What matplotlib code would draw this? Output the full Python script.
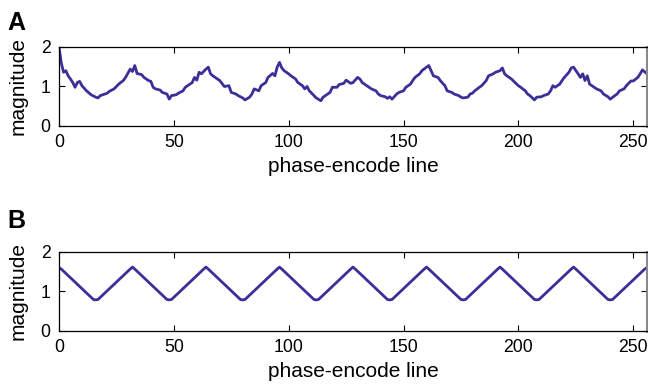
import matplotlib
matplotlib.use("Agg")
import matplotlib.pyplot as plt

plt.rcParams['font.family'] = ['Liberation Sans', 'DejaVu Sans']

line_a = [0, 1, 2, 3, 4, 5, 6, 7, 8, 9, 10, 12, 14, 16, 17, 18, 21, 22, 24, 25,
          26, 28, 29, 31, 32, 33, 34, 36, 37, 39, 40, 41, 42, 44, 45, 47, 48, 49,
          51, 52, 54, 55, 57, 58, 59, 60, 61, 62, 64, 65, 66, 67, 69, 70, 72, 74,
          75, 77, 78, 80, 81, 83, 84, 85, 87, 88, 90, 91, 93, 94, 95, 96, 97, 98,
          100, 101, 103, 104, 106, 107, 108, 109, 111, 112, 114, 115, 116, 118,
          119, 121, 122, 124, 125, 127, 128, 130, 131, 132, 133, 135, 136, 138,
          139, 140, 142, 143, 144, 145, 147, 148, 150, 151, 153, 154, 155, 157,
          158, 160, 161, 162, 163, 165, 166, 168, 169, 171, 172, 174, 175, 176,
          178, 179, 180, 181, 183, 184, 186, 187, 189, 190, 192, 193, 194, 195,
          197, 198, 200, 201, 203, 204, 205, 207, 208, 210, 211, 213, 214, 215,
          216, 218, 219, 220, 222, 223, 224, 226, 227, 228, 229, 230, 231, 233,
          234, 236, 237, 239, 240, 242, 243, 244, 246, 247, 249, 250, 252, 253,
          254, 256]
mag_a = [2.00, 1.60, 1.36, 1.40, 1.27, 1.19, 1.10, 0.98, 1.10, 1.13, 1.02, 0.89,
         0.79, 0.73, 0.71, 0.77, 0.83, 0.88, 0.94, 1.00, 1.06, 1.15, 1.23, 1.44,
         1.38, 1.53, 1.33, 1.30, 1.23, 1.15, 1.13, 0.98, 0.94, 0.91, 0.85, 0.81,
         0.68, 0.77, 0.79, 0.83, 0.89, 0.98, 1.06, 1.10, 1.23, 1.16, 1.36, 1.32,
         1.44, 1.49, 1.32, 1.27, 1.19, 1.15, 1.00, 1.02, 0.85, 0.81, 0.77, 0.71,
         0.66, 0.73, 0.81, 0.94, 0.89, 1.02, 1.10, 1.23, 1.33, 1.27, 1.49, 1.61,
         1.47, 1.40, 1.32, 1.27, 1.19, 1.10, 1.02, 0.94, 1.00, 0.89, 0.77, 0.71,
         0.64, 0.73, 0.77, 0.85, 0.98, 0.98, 1.05, 1.08, 1.16, 1.08, 1.10, 1.23,
         1.19, 1.10, 1.06, 0.98, 0.94, 0.89, 0.81, 0.77, 0.74, 0.70, 0.74, 0.68,
         0.81, 0.85, 0.89, 0.98, 1.06, 1.15, 1.23, 1.32, 1.40, 1.49, 1.53, 1.40,
         1.27, 1.23, 1.15, 1.02, 0.89, 0.85, 0.81, 0.77, 0.73, 0.71, 0.73, 0.81,
         0.83, 0.89, 0.98, 1.02, 1.15, 1.27, 1.32, 1.36, 1.40, 1.47, 1.32, 1.27,
         1.19, 1.13, 1.02, 0.98, 0.89, 0.81, 0.77, 0.66, 0.73, 0.74, 0.77, 0.81,
         0.89, 1.02, 0.98, 1.06, 1.15, 1.23, 1.36, 1.47, 1.49, 1.32, 1.23, 1.32,
         1.15, 1.27, 1.06, 0.98, 0.94, 0.89, 0.81, 0.74, 0.68, 0.77, 0.81, 0.89,
         0.94, 1.02, 1.14, 1.14, 1.23, 1.32, 1.42, 1.32]

# panel B: smooth periodic magnitude (peaks and trough corners)
line_b = [0, 1, 15, 16, 17, 31, 32, 33, 47, 48, 49, 63, 64, 65, 79, 80, 81, 95,
          96, 97, 111, 112, 113, 127, 128, 129, 143, 144, 145, 159, 160, 161, 175,
          176, 177, 191, 192, 193, 207, 208, 209, 223, 224, 225, 239, 240, 241,
          255, 256]
mag_b = [1.60, 1.56, 0.79, 0.78, 0.79, 1.56, 1.61, 1.56, 0.79, 0.78, 0.79, 1.56,
         1.61, 1.56, 0.79, 0.78, 0.79, 1.56, 1.61, 1.56, 0.79, 0.78, 0.79, 1.56,
         1.61, 1.56, 0.79, 0.78, 0.79, 1.56, 1.61, 1.56, 0.79, 0.78, 0.79, 1.56,
         1.61, 1.56, 0.79, 0.78, 0.79, 1.56, 1.61, 1.56, 0.79, 0.78, 0.79, 1.56,
         1.60]

xticks = [0, 50, 100, 150, 200, 250]
yticks = [0, 1, 2]
line_color = '#3b2f98'

fig = plt.figure(figsize=(6.48, 3.89), dpi=100)
ax_a = fig.add_axes([0.0910, 0.6761, 0.9075, 0.2031])
ax_b = fig.add_axes([0.0910, 0.1499, 0.9075, 0.2031])

for ax, xs, ys in [(ax_a, line_a, mag_a), (ax_b, line_b, mag_b)]:
    ax.plot(xs, ys, color=line_color, lw=2.0, solid_joinstyle='round')
    ax.set_xlim(0, 256)
    ax.set_ylim(0, 2)
    ax.set_xticks(xticks)
    ax.set_yticks(yticks)
    ax.tick_params(direction='in', top=True, right=True, length=4, width=0.8,
                   labelsize=12.7, pad=6)
    for sp in ax.spines.values():
        sp.set_linewidth(0.9)
    ax.spines['right'].set_color('#8a8a8a')
    ax.spines['right'].set_linewidth(2.2)
    ax.set_xlabel("phase-encode line", fontsize=15, labelpad=4)
    ax.set_ylabel("magnitude", fontsize=15)
    ax.yaxis.set_label_coords(-0.054, 0.5)

fig.text(7 / 648, 1 - 30 / 389, "A", fontsize=18, fontweight='bold', va='baseline')
fig.text(7 / 648, 1 - 228 / 389, "B", fontsize=18, fontweight='bold', va='baseline')

fig.savefig("out.png", dpi=100)
